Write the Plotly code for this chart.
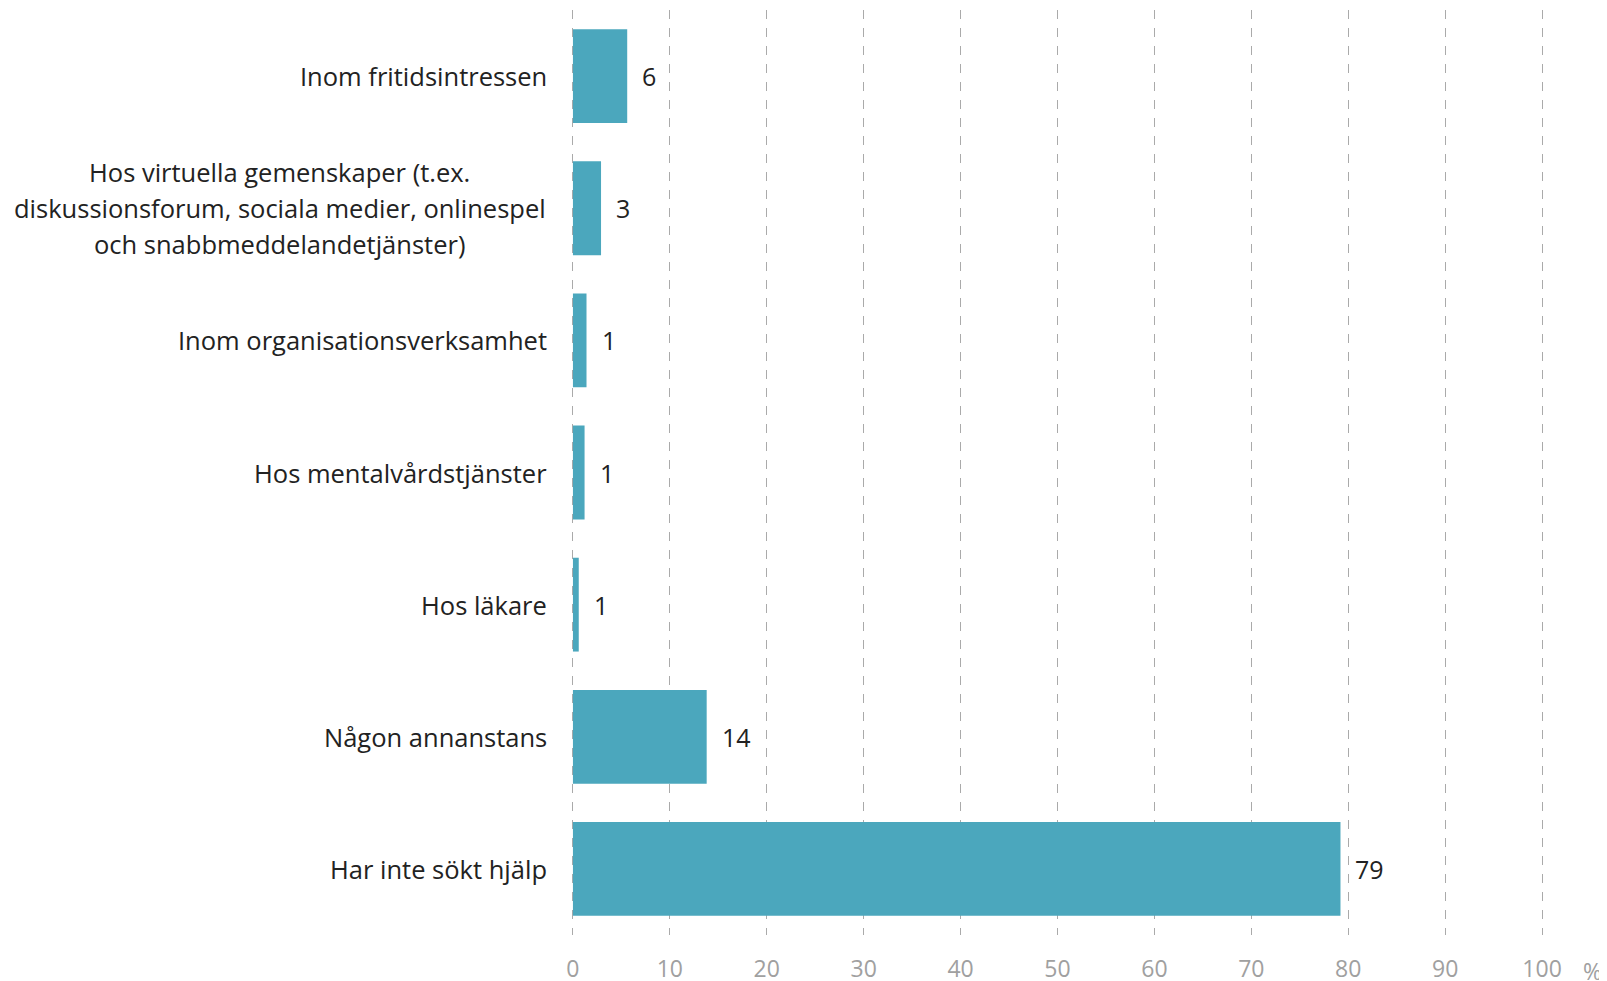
import plotly.graph_objects as go

categories = [
    "Inom fritidsintressen",
    "Hos virtuella gemenskaper (t.ex.<br>diskussionsforum, sociala medier, onlinespel<br>och snabbmeddelandetjänster)",
    "Inom organisationsverksamhet",
    "Hos mentalvårdstjänster",
    "Hos läkare",
    "Någon annanstans",
    "Har inte sökt hjälp",
]
values = [5.6, 2.9, 1.4, 1.2, 0.6, 13.8, 79.2]
value_labels = ["6", "3", "1", "1", "1", "14", "79"]
x_ticks = [0, 10, 20, 30, 40, 50, 60, 70, 80, 90, 100]

FONT = "Open Sans"
BAR_COLOR = "#4ba7bd"
TEXT_COLOR = "#222222"
TICK_COLOR = "#a0a0a0"

fig = go.Figure()
fig.add_trace(go.Bar(
    y=categories, x=values, orientation="h",
    marker=dict(color=BAR_COLOR, line=dict(width=0)),
    width=0.71, hoverinfo="skip",
))

ann_list = []
for cat, v, lab in zip(categories, values, value_labels):
    ann_list.append(dict(
        x=v, y=cat, xref="x", yref="y", text=lab, showarrow=False,
        xanchor="left", yanchor="middle", xshift=13,
        font=dict(family=FONT, size=25, color=TEXT_COLOR),
    ))
    lines = cat.split("<br>")
    n = len(lines)
    if n == 1:
        ann_list.append(dict(
            x=0, y=cat, xref="x", yref="y", text=cat, showarrow=False,
            xanchor="right", yanchor="middle", xshift=-24,
            font=dict(family=FONT, size=25.5, color=TEXT_COLOR),
        ))
    else:
        for i, line in enumerate(lines):
            ann_list.append(dict(
                x=0, y=cat, xref="x", yref="y", text=line, showarrow=False,
                xanchor="center", yanchor="middle", xshift=-293,
                yshift=((n - 1) / 2 - i) * 36,
                font=dict(family=FONT, size=25.5, color=TEXT_COLOR),
            ))

ann_list.append(dict(
    x=100, y=0, xref="x", yref="paper", text="%", showarrow=False,
    xanchor="center", yanchor="middle", xshift=50, yshift=-36,
    font=dict(family=FONT, size=23, color=TICK_COLOR),
))

fig.update_layout(
    width=1599, height=973,
    margin=dict(l=563, r=63, t=2, b=46),
    plot_bgcolor="white", paper_bgcolor="white",
    showlegend=False,
    xaxis=dict(
        range=[-0.2, 100.2], tickvals=x_ticks, showgrid=True,
        gridcolor="#aaaaaa", griddash="dash", gridwidth=1,
        zeroline=False, showline=False, ticks="",
        tickfont=dict(family=FONT, size=23, color=TICK_COLOR),
        ticklabelstandoff=18, automargin=False,
    ),
    yaxis=dict(
        categoryorder="array", categoryarray=categories[::-1],
        showticklabels=False, showgrid=False, zeroline=False, showline=False,
        ticks="", automargin=False,
    ),
    annotations=ann_list,
)

fig.write_html("out.html")
